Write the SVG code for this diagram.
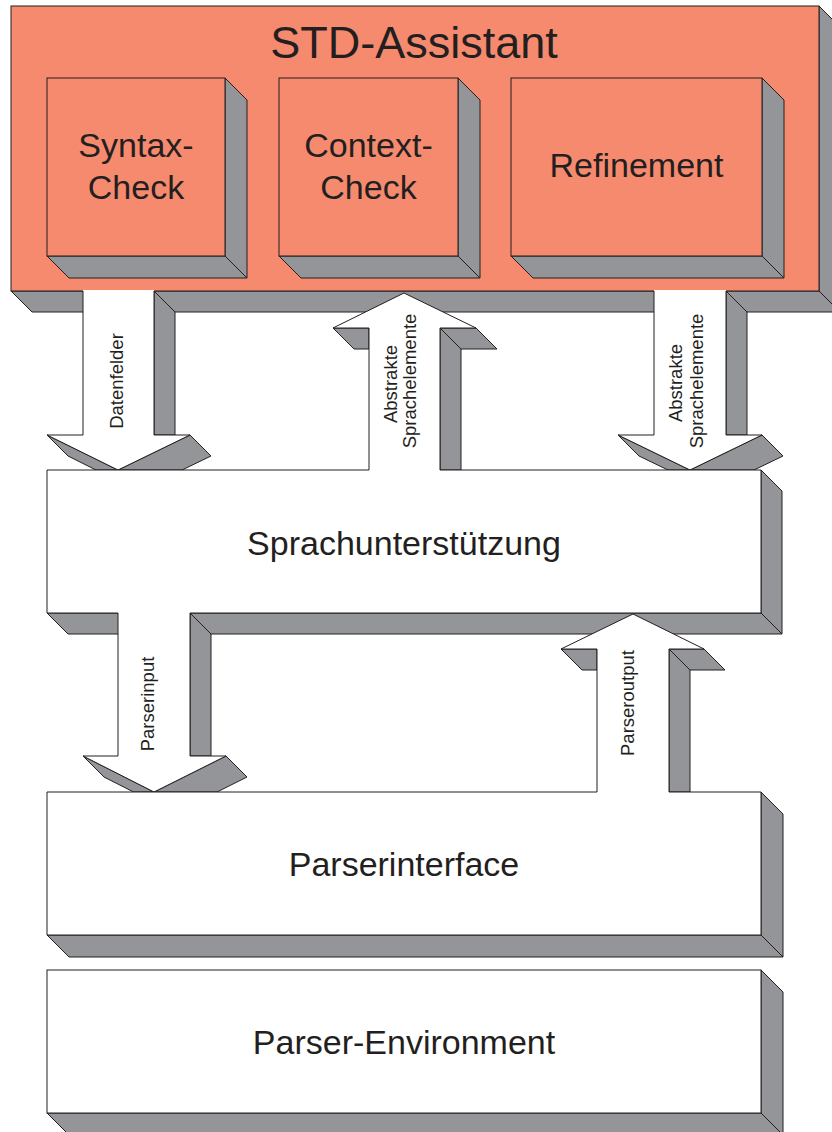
<svg xmlns="http://www.w3.org/2000/svg" width="832" height="1132" viewBox="0 0 832 1132">
<style>
.bg{fill:#ffffff}
.sal{fill:#F68A6E;stroke:#231F20;stroke-width:1}
.grey{fill:#939598;stroke:#231F20;stroke-width:1;stroke-linejoin:miter}
.wh{fill:#ffffff;stroke:none}
.whb{fill:#ffffff;stroke:#231F20;stroke-width:1}
.line{fill:none;stroke:#231F20;stroke-width:1}
.big{font-family:"Liberation Sans",Arial,sans-serif;font-size:34px;fill:#231F20;text-anchor:middle}
.title{font-family:"Liberation Sans",Arial,sans-serif;font-size:45px;fill:#231F20;text-anchor:middle}
.small{font-family:"Liberation Sans",Arial,sans-serif;font-size:18.5px;fill:#231F20;text-anchor:middle}
</style>
<rect class="bg" x="0" y="0" width="832" height="1132"/>

<g id="std-assistant">
  <polygon class="grey" points="819,6 840,27 840,312 819,291"/>
  <polygon class="grey" points="11,291 819,291 840,312 32,312"/>
  <rect class="sal" x="11" y="6" width="808" height="285"/>
  <text class="title" x="414" y="58">STD-Assistant</text>
</g>

<g id="syntax-check">
  <polygon class="grey" points="225,78 247,100 247,278 225,256"/>
  <polygon class="grey" points="47,256 225,256 247,278 69,278"/>
  <rect class="sal" x="47" y="78" width="178" height="178"/>
  <text class="big" x="136" y="157">Syntax-</text>
  <text class="big" x="136" y="199">Check</text>
</g>

<g id="context-check">
  <polygon class="grey" points="458,78 480,100 480,278 458,256"/>
  <polygon class="grey" points="279,256 458,256 480,278 301,278"/>
  <rect class="sal" x="279" y="78" width="179" height="178"/>
  <text class="big" x="368.5" y="157">Context-</text>
  <text class="big" x="368.5" y="199">Check</text>
</g>

<g id="refinement">
  <polygon class="grey" points="762,78 784,100 784,278 762,256"/>
  <polygon class="grey" points="511,256 762,256 784,278 533,278"/>
  <rect class="sal" x="511" y="78" width="251" height="178"/>
  <text class="big" x="636.5" y="177">Refinement</text>
</g>

<g id="connectors">
  <g id="arrow-datenfelder">
    <polygon class="grey" points="154,291 175,312 175,435 154,435"/>
    <polygon class="grey" points="190,435 211,456 182,470 118,470"/>
    <polygon class="grey" points="47,435 118,470 96,470 68,456"/>
    <polygon class="wh" points="83,290 154,290 154,435 190,435 118,470 47,435 83,435"/>
    <path class="line" d="M83,291 V435 H47 L118,470 L190,435 H154 V291"/>
    <text class="small" transform="translate(123,381) rotate(-90)">Datenfelder</text>
  </g>
  <g id="arrow-abstrakte-up">
    <polygon class="grey" points="333,328 369,328 369,349 354,349"/>
    <polygon class="grey" points="440,328 476,328 497,349 461,349"/>
    <polygon class="grey" points="440,328 461,349 461,470 440,470"/>
    <polygon class="wh" points="404,293 476,328 440,328 440,471 369,471 369,328 333,328"/>
    <path class="line" d="M369,470 V328 H333 L404,293 L476,328 H440 V470"/>
    <text class="small" transform="translate(397,384) rotate(-90)">Abstrakte</text>
    <text class="small" transform="translate(416,381) rotate(-90)">Sprachelemente</text>
  </g>
  <g id="arrow-abstrakte-down">
    <polygon class="grey" points="726,291 747,312 747,435 726,435"/>
    <polygon class="grey" points="762,435 783,456 754,470 690,470"/>
    <polygon class="grey" points="618,435 690,470 668,470 639,456"/>
    <polygon class="wh" points="654,290 726,290 726,435 762,435 690,470 618,435 654,435"/>
    <path class="line" d="M654,291 V435 H618 L690,470 L762,435 H726 V291"/>
    <text class="small" transform="translate(682,383) rotate(-90)">Abstrakte</text>
    <text class="small" transform="translate(703,381) rotate(-90)">Sprachelemente</text>
  </g>
</g>

<g id="sprachunterstuetzung">
  <polygon class="grey" points="761,470 782,491 782,634 761,613"/>
  <polygon class="grey" points="47,613 761,613 782,634 68,634"/>
  <rect class="wh" x="47" y="470" width="714" height="143"/>
  <path class="line" d="M369,470 H47 V613 H761 V470 H440"/>
  <text class="big" x="404" y="555">Sprachunterstützung</text>
</g>

<g id="connectors-lower">
  <g id="arrow-parserinput">
    <polygon class="grey" points="190,613 211,634 211,756 190,756"/>
    <polygon class="grey" points="226,756 247,777 217,792 154,792"/>
    <polygon class="grey" points="83,756 154,792 133.6,792 104,777"/>
    <polygon class="wh" points="118,612 190,612 190,756 226,756 154,792 83,756 118,756"/>
    <path class="line" d="M118,613 V756 H83 L154,792 L226,756 H190 V613"/>
    <text class="small" transform="translate(154,704) rotate(-90)">Parserinput</text>
  </g>
  <g id="arrow-parseroutput">
    <polygon class="grey" points="561,649 597,649 597,670 582,670"/>
    <polygon class="grey" points="669,649 704,649 725,670 690,670"/>
    <polygon class="grey" points="669,649 690,670 690,792 669,792"/>
    <polygon class="wh" points="633,614 704,649 669,649 669,793 597,793 597,649 561,649"/>
    <path class="line" d="M597,792 V649 H561 L633,614 L704,649 H669 V792"/>
    <text class="small" transform="translate(634,703) rotate(-90)">Parseroutput</text>
  </g>
</g>

<g id="parserinterface">
  <polygon class="grey" points="761,792 783,814 783,957 761,935"/>
  <polygon class="grey" points="47,935 761,935 783,957 69,957"/>
  <rect class="wh" x="47" y="792" width="714" height="143"/>
  <path class="line" d="M597,792 H47 V935 H761 V792 H669"/>
  <text class="big" x="404" y="876">Parserinterface</text>
</g>

<g id="parser-environment">
  <polygon class="grey" points="761,970 783,992 783,1135 761,1113"/>
  <polygon class="grey" points="47,1113 761,1113 783,1135 69,1135"/>
  <rect class="whb" x="47" y="970" width="714" height="143"/>
  <text class="big" x="404" y="1054">Parser-Environment</text>
</g>
</svg>
